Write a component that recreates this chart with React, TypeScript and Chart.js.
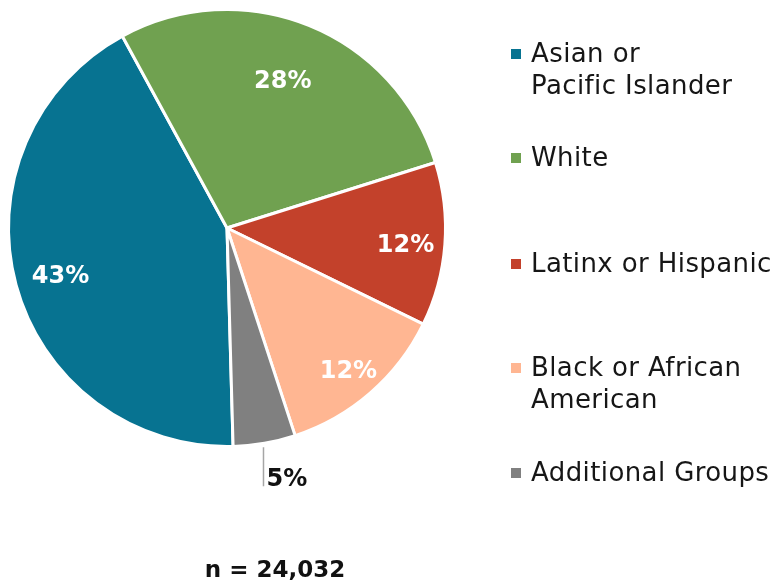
import React, { useEffect, useRef } from "react";
import { Chart, registerables } from "chart.js";

Chart.register(...registerables);

const categories: string[][] = [
  ["Asian or", "Pacific Islander"],
  ["White"],
  ["Latinx or Hispanic"],
  ["Black or African", "American"],
  ["Additional Groups"],
];
const shares: number[] = [42.5, 28.1, 12.1, 12.7, 4.6];
const shareLabels: string[] = ["43%", "28%", "12%", "12%", "5%"];
const colors: string[] = ["#077391", "#70A150", "#C3412B", "#FFB692", "#808080"];
const sampleNote = "n = 24,032";

// label placement style (angle offset in degrees, radius fraction; null = outside with leader)
const labelStyle: ({ da: number; rf: number } | null)[] = [
  { da: -0.3, rf: 0.79 },
  { da: -1.5, rf: 0.73 },
  { da: 0.5, rf: 0.82 },
  { da: 0.2, rf: 0.85 },
  null,
];
const legendTops: number[] = [62, 166, 272, 376, 481];

const FONT = "'DejaVu Sans', 'Open Sans', sans-serif";

const overlay = {
  id: "overlay",
  afterDraw(chart: any) {
    const ctx = chart.ctx as any;
    const meta = chart.getDatasetMeta(0);
    ctx.save();
    meta.data.forEach((arc: any, i: number) => {
      const { x, y, startAngle, endAngle, outerRadius } = arc.getProps(
        ["x", "y", "startAngle", "endAngle", "outerRadius"],
        true
      );
      const mid = (startAngle + endAngle) / 2;
      const st = labelStyle[i];
      ctx.font = `bold 24px ${FONT}`;
      ctx.letterSpacing = "0px";
      ctx.textBaseline = "alphabetic";
      if (st) {
        const a = mid + (st.da * Math.PI) / 180;
        const lx = x + Math.cos(a) * outerRadius * st.rf;
        const ly = y + Math.sin(a) * outerRadius * st.rf;
        ctx.fillStyle = "#ffffff";
        ctx.textAlign = "center";
        ctx.fillText(shareLabels[i], lx, ly + 9);
      } else {
        const ex = x + Math.cos(mid) * outerRadius;
        const ey = y + Math.sin(mid) * outerRadius;
        ctx.strokeStyle = "#a6a6a6";
        ctx.lineWidth = 1.5;
        ctx.beginPath();
        ctx.moveTo(ex - 1, ey + 4);
        ctx.lineTo(ex - 1, ey + 43);
        ctx.stroke();
        ctx.fillStyle = "#111111";
        ctx.textAlign = "left";
        ctx.fillText(shareLabels[i], ex + 2, ey + 43);
      }
    });
    ctx.font = `26px ${FONT}`;
    ctx.letterSpacing = "0.4px";
    ctx.textAlign = "left";
    ctx.textBaseline = "alphabetic";
    categories.forEach((lines, i) => {
      const base = legendTops[i];
      ctx.fillStyle = colors[i];
      ctx.fillRect(511, base - 13, 10, 10);
      ctx.fillStyle = "#161616";
      lines.forEach((ln, j) => ctx.fillText(ln, 531, base + j * 32));
    });
    ctx.font = `bold 23px ${FONT}`;
    ctx.letterSpacing = "0px";
    ctx.fillStyle = "#111111";
    ctx.textAlign = "center";
    ctx.fillText(sampleNote, 275, 577);
    ctx.restore();
  },
};

export default function App() {
  const ref = useRef<HTMLCanvasElement>(null);
  useEffect(() => {
    if (!ref.current) return;
    const chart = new Chart(ref.current, {
      type: "pie",
      data: {
        labels: categories.map((c) => c.join(" ")),
        datasets: [
          {
            data: shares,
            backgroundColor: colors,
            borderColor: "#ffffff",
            borderWidth: 3,
          },
        ],
      },
      options: {
        animation: false,
        responsive: false,
        rotation: 178.4,
        layout: { padding: { left: 7, top: 8, right: 327, bottom: 137 } },
        plugins: { legend: { display: false }, tooltip: { enabled: false } },
      },
      plugins: [overlay],
    });
    return () => chart.destroy();
  }, []);
  return (
    <div style={{ position: "fixed", left: 0, top: 0, width: 774, height: 585, background: "#fff" }}>
      <canvas ref={ref} width={774} height={585} style={{ width: 774, height: 585 }} />
    </div>
  );
}
